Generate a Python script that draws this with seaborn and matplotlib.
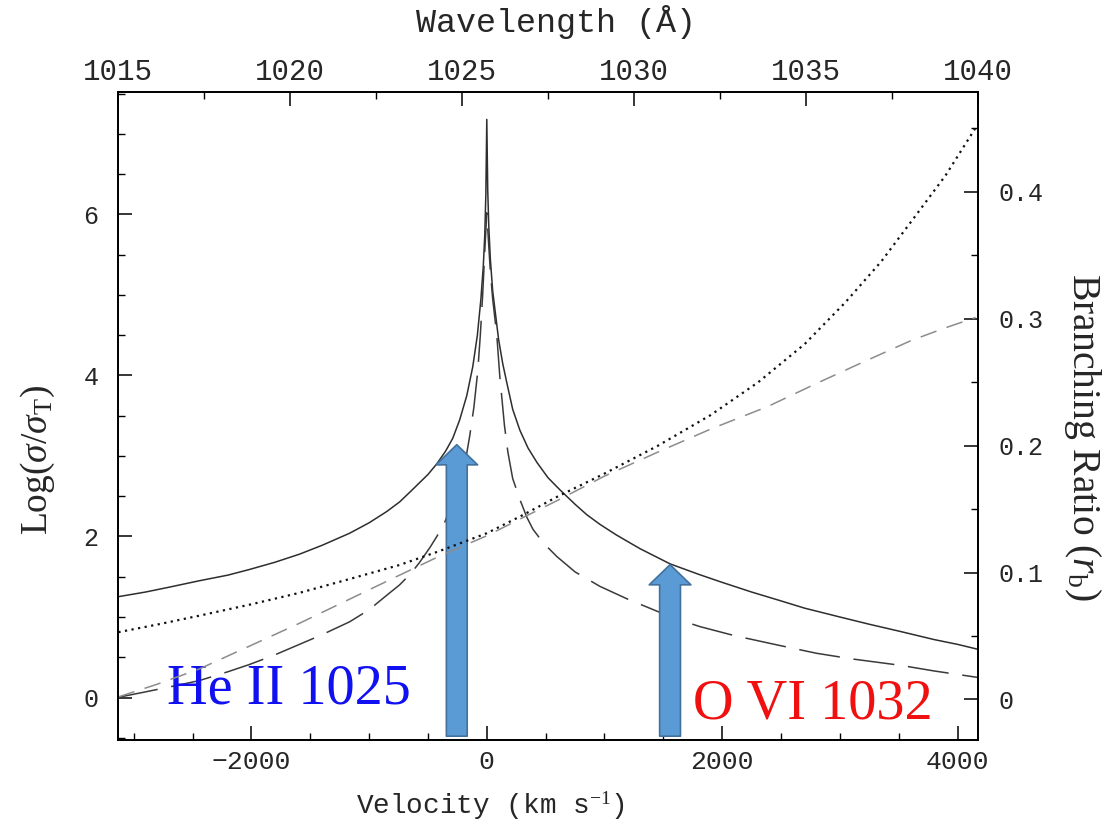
import matplotlib
matplotlib.use("Agg")
import matplotlib.pyplot as plt
import numpy as np
import pandas as pd
import seaborn as sns
from matplotlib.ticker import MultipleLocator, FuncFormatter

# Rest wavelength of the line and speed of light (km/s)
LAMBDA0 = 1025.72
C_KMS = 299792.458
WAVE_LO, WAVE_HI = 1015.0, 1040.0

# Total scattering cross section, log(sigma / sigma_T)  (left axis)
v_total = [-3140, -2900, -2700, -2443, -2200, -2017, -1800, -1592, -1400,
           -1166, -1000, -850, -740, -640, -570, -500, -426, -350, -289,
           -230, -170, -119, -80, -50, -30, -17, -8, 0, 8, 17, 30, 50, 75,
           100, 135, 170, 220, 281, 350, 426, 520, 621, 750, 850, 962, 1100,
           1300, 1557, 1800, 2000, 2250, 2477, 2700, 3000, 3250, 3515, 3800,
           4000, 4170]
log_total = [1.25, 1.31, 1.37, 1.45, 1.52, 1.59, 1.68, 1.78, 1.89,
             2.04, 2.17, 2.31, 2.43, 2.57, 2.67, 2.77, 2.90, 3.06, 3.22,
             3.45, 3.75, 4.11, 4.50, 4.95, 5.35, 5.75, 6.25, 7.18, 6.30, 5.85,
             5.45, 5.05, 4.75, 4.45, 4.15, 3.91, 3.58, 3.32, 3.10, 2.92, 2.73,
             2.58, 2.40, 2.27, 2.15, 2.02, 1.85, 1.66, 1.53, 1.43, 1.31, 1.21,
             1.11, 1.00, 0.91, 0.82, 0.72, 0.66, 0.60]

# Raman scattering cross section, log(sigma / sigma_T)  (left axis)
v_raman = [-3140, -2900, -2700, -2443, -2200, -2017, -1800, -1592, -1400,
           -1166, -1000, -850, -740, -640, -570, -480, -374, -300, -230,
           -180, -145, -110, -77, -55, -35, -17, 0, 15, 30, 50, 85, 110, 128,
           150, 179, 220, 281, 340, 392, 480, 596, 750, 962, 1200, 1400, 1600,
           1813, 2100, 2477, 2800, 3100, 3515, 3800, 4170]
log_raman = [0.00, 0.07, 0.13, 0.21, 0.32, 0.41, 0.53, 0.66, 0.78,
             0.94, 1.09, 1.27, 1.40, 1.55, 1.68, 1.87, 2.12, 2.38, 2.67,
             2.95, 3.25, 3.60, 4.05, 4.50, 5.00, 5.55, 6.02, 5.65, 5.30, 4.95,
             4.50, 4.00, 3.72, 3.38, 3.05, 2.72, 2.46, 2.24, 2.09, 1.92, 1.75,
             1.56, 1.38, 1.22, 1.10, 0.98, 0.88, 0.77, 0.65, 0.55, 0.48, 0.40,
             0.33, 0.25]

# Branching ratio r_b  (right axis), dotted curve
v_ratio_a = [-3130, -2800, -2443, -2000, -1592, -1200, -740, -400, 0, 300,
             604, 1000, 1455, 1900, 2306, 2700, 3047, 3350, 3609, 3898, 4170]
ratio_a = [0.053, 0.059, 0.066, 0.075, 0.084, 0.094, 0.106, 0.117, 0.131,
           0.145, 0.160, 0.178, 0.200, 0.224, 0.250, 0.280, 0.313, 0.345,
           0.377, 0.413, 0.453]

# Branching ratio r_b  (right axis), dashed grey curve
v_ratio_b = [-3130, -2800, -2443, -2017, -1592, -1166, -740, -400, 0, 300,
             604, 1000, 1455, 1900, 2391, 2800, 3200, 3609, 3900, 4153]
ratio_b = [0.002, 0.012, 0.024, 0.042, 0.060, 0.079, 0.098, 0.113, 0.129,
           0.143, 0.157, 0.176, 0.195, 0.213, 0.231, 0.249, 0.266, 0.283,
           0.293, 0.301]

# Line identifications: (label, colour, text anchor, arrow tip)
he_label, he_color = "He II 1025", "#1010F0"
ov_label, ov_color = "O VI 1032", "#F01010"
he_text_pos, he_arrow_tip = (-2715, -0.07), (-255, 3.14)
ov_text_pos, ov_arrow_tip = (1753, -0.255), (1557, 1.65)
arrow_base = -0.48

sns.set_theme(style="ticks")
plt.rcParams.update({
    "font.family": ["Liberation Mono", "DejaVu Sans"],
    "mathtext.fontset": "custom",
    "mathtext.rm": "Liberation Serif",
    "mathtext.it": "Liberation Serif:italic",
    "mathtext.bf": "Liberation Serif:bold",
    "axes.unicode_minus": True,
    "axes.edgecolor": "black",
    "axes.linewidth": 1.1,
})

fig = plt.figure(figsize=(11.04, 8.24), dpi=100)
ax = fig.add_axes([0.1069, 0.1019, 0.7790, 0.7864])
axr = ax.twinx()
axt = ax.twiny()

df_total = pd.DataFrame({"v": v_total, "y": log_total})
df_raman = pd.DataFrame({"v": v_raman, "y": log_raman})
df_a = pd.DataFrame({"v": v_ratio_a, "y": ratio_a})
df_b = pd.DataFrame({"v": v_ratio_b, "y": ratio_b})

sns.lineplot(data=df_total, x="v", y="y", ax=ax, color="#2e2e2e", lw=1.1,
             estimator=None, sort=False)
sns.lineplot(data=df_raman, x="v", y="y", ax=ax, color="#3a3a3a", lw=1.1,
             linestyle=(0, (27, 9)), estimator=None, sort=False)
sns.lineplot(data=df_a, x="v", y="y", ax=axr, color="#111111", lw=1.6,
             linestyle=(0, (1, 2)), estimator=None, sort=False)
sns.lineplot(data=df_b, x="v", y="y", ax=axr, color="#8c8c8c", lw=1.1,
             linestyle=(0, (11, 7)), estimator=None, sort=False)

v_lo = C_KMS * (WAVE_LO - LAMBDA0) / LAMBDA0
v_hi = C_KMS * (WAVE_HI - LAMBDA0) / LAMBDA0
ax.set_xlim(v_lo, v_hi)
axt.set_xlim(WAVE_LO, WAVE_HI)
ax.set_ylim(-0.528, 7.52)
axr.set_ylim(-0.032, 0.4787)

ax.xaxis.set_major_locator(MultipleLocator(2000))
ax.xaxis.set_minor_locator(MultipleLocator(500))
ax.yaxis.set_major_locator(MultipleLocator(2))
ax.yaxis.set_minor_locator(MultipleLocator(0.5))
axr.yaxis.set_major_locator(MultipleLocator(0.1))
axr.yaxis.set_minor_locator(MultipleLocator(0.05))
axt.xaxis.set_major_locator(MultipleLocator(5))
axt.xaxis.set_minor_locator(MultipleLocator(2.5))
fmt = FuncFormatter(lambda val, pos: f"{val:g}".replace("-", "\u2212"))
for a in (ax.xaxis, ax.yaxis, axr.yaxis, axt.xaxis):
    a.set_major_formatter(fmt)

for a in (ax, axr, axt):
    a.tick_params(which="major", direction="in", length=10, width=1.1, color="black")
    a.tick_params(which="minor", direction="in", length=5, width=1.0, color="black")
    a.grid(False)
ax.tick_params(axis="x", which="both", bottom=True, top=False, labelsize=19, pad=7)
ax.tick_params(axis="y", which="both", left=True, right=False, labelsize=18, pad=14)
axr.tick_params(axis="y", which="both", right=True, left=False, labelsize=18, pad=15)
axt.tick_params(axis="x", which="both", top=True, bottom=False, labelsize=21, pad=4)

ax.set_xlabel("Velocity (km s$^{-1}$)", fontsize=20)
ax.xaxis.set_label_coords(0.4326, -0.1019)
ax.xaxis.label.set_va("center")
axt.set_xlabel("Wavelength (\u00c5)", fontsize=24)
axt.xaxis.set_label_coords(0.5093, 1.108)
axt.xaxis.label.set_va("center")
ax.set_ylabel(r"Log($\sigma/\sigma_{\rm T}$)", family="Liberation Serif", fontsize=27)
ax.yaxis.set_label_coords(-0.093, 0.432)
ax.yaxis.label.set_va("center")
axr.set_ylabel(r"Branching Ratio ($r_{\rm b}$)", family="Liberation Serif",
               fontsize=28.5, rotation=270)
axr.yaxis.set_label_coords(1.121, 0.4676)
axr.yaxis.label.set_va("center")

arrow_style = "simple,head_width=3.0,head_length=1.45,tail_width=1.5"
for tip in (he_arrow_tip, ov_arrow_tip):
    ax.annotate("", xy=tip, xytext=(tip[0], arrow_base), zorder=5,
                arrowprops=dict(arrowstyle=arrow_style, mutation_scale=10,
                                fc="#5B9BD5", ec="#41719C", lw=1.2,
                                shrinkA=0, shrinkB=0))

ax.text(*he_text_pos, he_label, color=he_color, fontsize=40.5,
        family="Liberation Serif", ha="left", va="baseline", zorder=6)
ax.text(*ov_text_pos, ov_label, color=ov_color, fontsize=40.5,
        family="Liberation Serif", ha="left", va="baseline", zorder=6)

fig.savefig("out.png", dpi=100, facecolor="white")
